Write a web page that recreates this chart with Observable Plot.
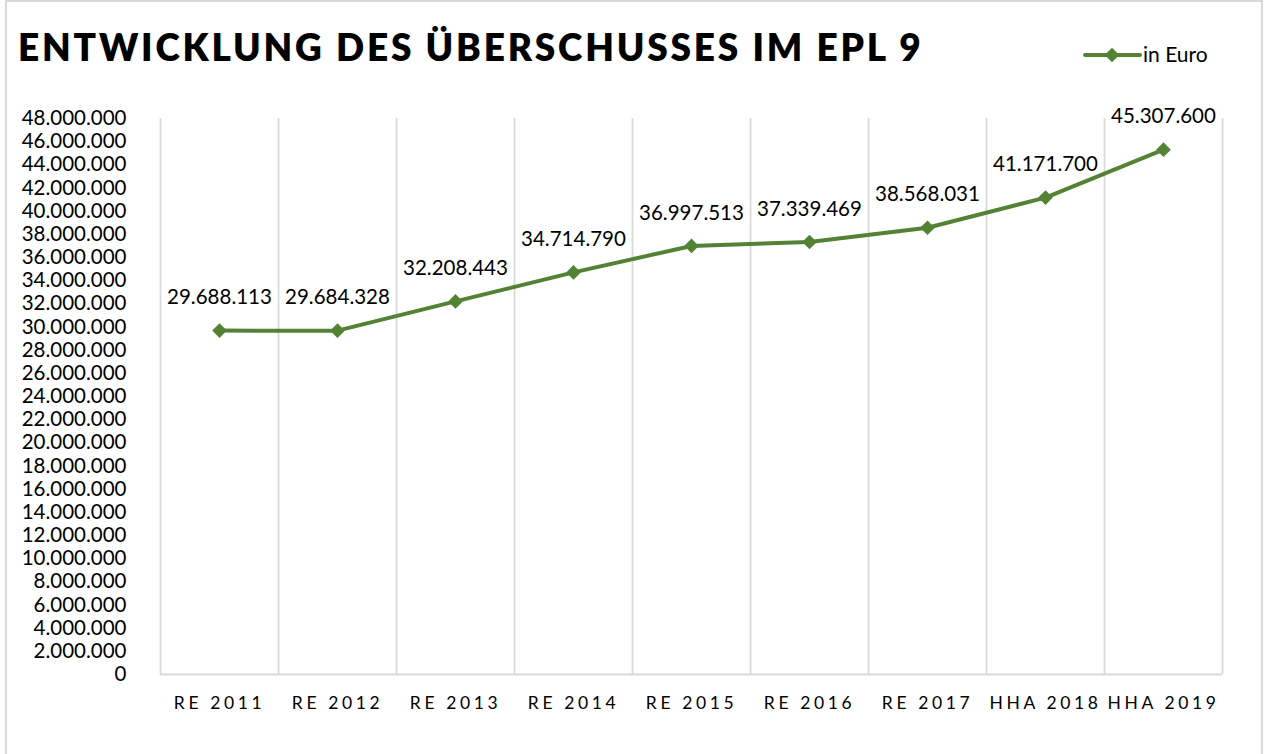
<!DOCTYPE html>
<html>
<head>
<meta charset="utf-8">
<script src="https://cdn.jsdelivr.net/npm/d3@7"></script>
<script src="https://cdn.jsdelivr.net/npm/@observablehq/plot@0.6"></script>
<style>
  html, body { margin: 0; padding: 0; background: #fff; }
  body { width: 1265px; height: 754px; position: relative; overflow: hidden; font-family: Lato, "Open Sans", sans-serif; }
  #frame { position: absolute; left: 5px; top: 0px; width: 1258px; height: 760px; border: 2px solid #d9d9d9; box-sizing: border-box; }
  #title { position: absolute; left: 18px; top: 24px; font-size: 37px; font-weight: 800; letter-spacing: 2.8px; color: #000; white-space: nowrap; }
  #legend { position: absolute; left: 1080px; top: 40px; }
  #chart { position: absolute; left: 0; top: 90px; }
  #chart g[aria-label="x-axis tick label"] text { letter-spacing: 3.6px; }
</style>
</head>
<body>
<div id="frame"></div>
<div id="title">ENTWICKLUNG DES ÜBERSCHUSSES IM EPL 9</div>
<div id="legend"></div>
<div id="chart"></div>
<script>
const categories = ["RE 2011", "RE 2012", "RE 2013", "RE 2014", "RE 2015", "RE 2016", "RE 2017", "HHA 2018", "HHA 2019"];
const values = [29688113, 29684328, 32208443, 34714790, 36997513, 37339469, 38568031, 41171700, 45307600];
const yTicks = d3.range(0, 48000001, 2000000);
const seriesName = "in Euro";

const green = "#548235";
const de = d3.formatLocale({decimal: ",", thousands: ".", grouping: [3], currency: ["", " €"]});
const fmt = de.format(",d");

const data = categories.map((c, i) => ({cat: c, pos: i + 0.5, value: values[i]}));

const chart = Plot.plot({
  width: 1265,
  height: 664,
  marginLeft: 160,
  marginRight: 43,
  marginTop: 28,
  marginBottom: 80,
  style: {fontFamily: "Lato, 'Open Sans', sans-serif", color: "#000", background: "transparent"},
  x: {domain: [0, categories.length], label: null},
  y: {domain: [0, 48000000], label: null},
  marks: [
    Plot.ruleX(d3.range(categories.length + 1), {stroke: "#d9d9d9", strokeWidth: 1.8, strokeOpacity: 1}),
    Plot.ruleY([0], {stroke: "#d9d9d9", strokeWidth: 2, strokeOpacity: 1}),
    Plot.axisY({ticks: yTicks, tickFormat: fmt, tickSize: 0, tickPadding: 34, fontSize: 20.5, label: null}),
    Plot.axisX({ticks: data.map(d => d.pos), tickFormat: p => categories[Math.floor(p)], tickSize: 0, tickPadding: 22, fontSize: 17.5, label: null}),
    Plot.line(data, {x: "pos", y: "value", stroke: green, strokeWidth: 4}),
    Plot.dot(data, {x: "pos", y: "value", symbol: "diamond2", r: 6.6, fill: green, stroke: "none"}),
    Plot.text(data, {x: "pos", y: "value", text: d => fmt(d.value), dy: -33, fontSize: 20.5, fill: "#000"})
  ]
});
document.getElementById("chart").appendChild(chart);

// legend
const lg = d3.select("#legend").append("svg").attr("width", 160).attr("height", 32);
lg.append("line").attr("x1", 5).attr("x2", 60).attr("y1", 15).attr("y2", 15).attr("stroke", green).attr("stroke-width", 4).attr("stroke-linecap", "round");
lg.append("path").attr("d", d3.symbol(d3.symbolDiamond2, Math.PI * 6.6 * 6.6)()).attr("transform", "translate(32,15)").attr("fill", green);
lg.append("text").attr("x", 63).attr("y", 15).attr("dy", "0.35em").attr("font-size", 21).attr("font-family", "Lato, sans-serif").text(seriesName);
</script>
</body>
</html>
